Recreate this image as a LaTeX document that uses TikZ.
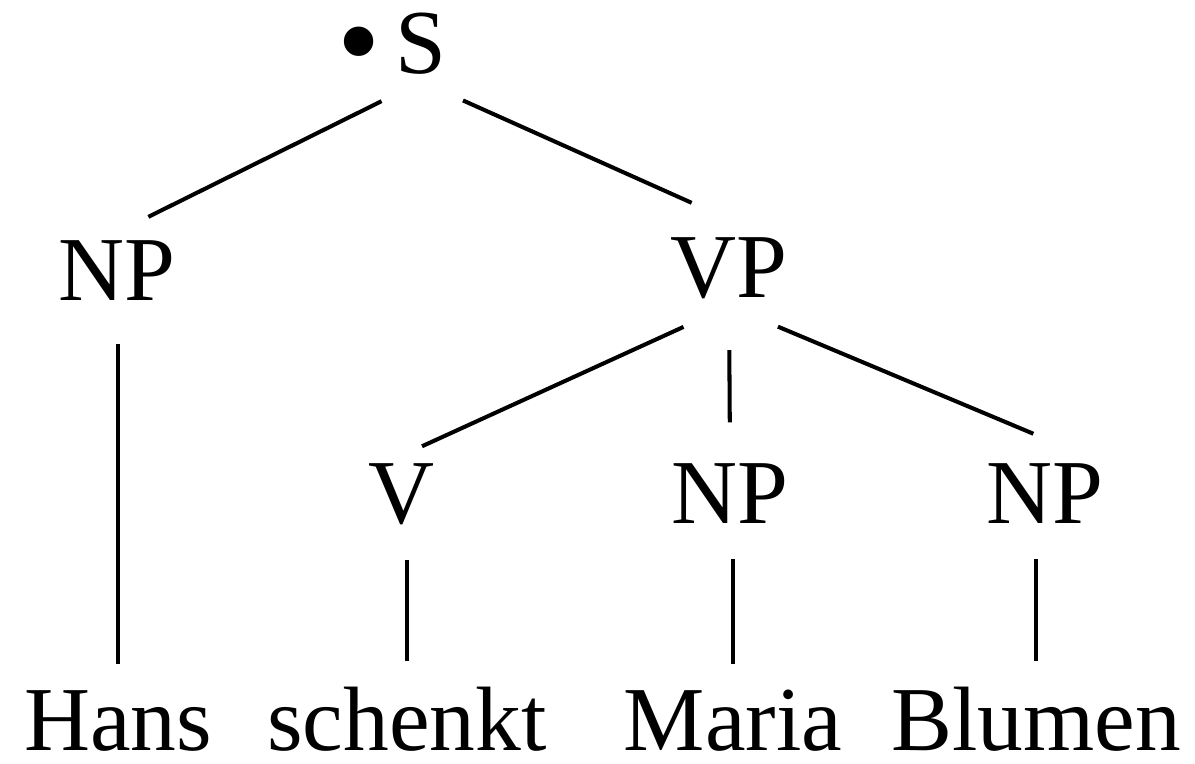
\documentclass[tikz,border=0pt]{standalone}
\usepackage{fontspec}
\setmainfont{Liberation Serif}

\begin{document}
\begin{tikzpicture}[
    x=0.01cm, y=-0.01cm,
    every node/.style={font=\fontsize{26}{30}\selectfont, inner sep=2pt},
    cat/.style={anchor=base},
    word/.style={anchor=base},
    br/.style={line width=1.15pt},
    dot/.style={font=\fontsize{35}{40}\selectfont, inner sep=0pt, label distance=0.07cm, yshift=-0.12cm},
  ]
  \useasboundingbox (0,0) rectangle (1195,763);
  % categories
  \node[cat, label={[dot]left:\textbullet}] (s) at (421,73) {S};
  \node[cat] (np1) at (117,300) {NP};
  \node[cat] (vp) at (729,297) {VP};
  \node[cat] (v) at (402,523) {V};
  \node[cat] (np2) at (730,523) {NP};
  \node[cat] (np3) at (1045,523) {NP};
  % words
  \node[word] (hans) at (118,750) {Hans};
  \node[word] (schenkt) at (407,750) {schenkt};
  \node[word] (maria) at (733,750) {Maria};
  \node[word] (blumen) at (1036,750) {Blumen};
  % branches
  \draw[br, shorten <=0.44cm, shorten >=0.35cm] (s.south) -- (np1.north);
  \draw[br, shorten <=0.46cm, shorten >=0.65cm] (s.south) -- ([xshift=0.22cm]vp.north);
  \draw[br, shorten <=0.5cm, shorten >=0.22cm] (vp.south) -- (v.north);
  \draw[br, shorten <=0.44cm, shorten >=0.33cm] (vp.south) -- (np2.north);
  \draw[br, shorten <=0.53cm, shorten >=0.56cm] (vp.south) -- ([xshift=0.4cm]np3.north);
  \draw[br, shorten <=0.36cm, shorten >=0.18cm] (hans.north |- np1.south) -- (hans.north);
  \draw[br, shorten <=0.28cm, shorten >=0.18cm] (schenkt.north |- v.south) -- (schenkt.north);
  \draw[br, shorten <=0.28cm, shorten >=0.18cm] (maria.north |- np2.south) -- (maria.north);
  \draw[br, shorten <=0.28cm, shorten >=0.18cm] (blumen.north |- np3.south) -- (blumen.north);
\end{tikzpicture}
\end{document}
